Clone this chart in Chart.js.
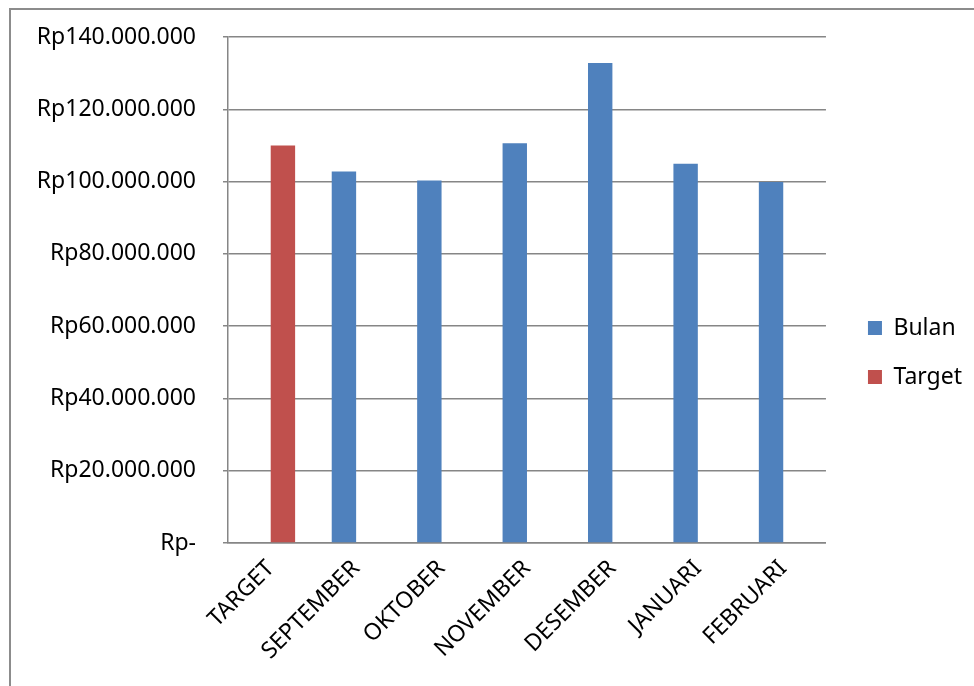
<!DOCTYPE html>
<html>
<head>
<meta charset="utf-8">
<script src="https://cdn.jsdelivr.net/npm/chart.js@4.4.1/dist/chart.umd.min.js"></script>
<style>
  html, body { margin: 0; padding: 0; background: #fff; overflow: hidden; }
  #wrap { position: relative; width: 974px; height: 686px; }
  #frame {
    position: absolute; left: 9px; top: 8px; width: 1000px; height: 700px;
    border-left: 2px solid #8c8c8c; border-top: 2px solid #8c8c8c;
  }
  canvas { position: absolute; left: 0; top: 0; }
</style>
</head>
<body>
<div id="wrap">
  <div id="frame"></div>
  <canvas id="salesChart" width="974" height="686"></canvas>
</div>
<script>
// Categories and monthly sales (Rupiah)
const categories = ["TARGET", "SEPTEMBER", "OKTOBER", "NOVEMBER", "DESEMBER", "JANUARI", "FEBRUARI"];
const bulanValues = [null, 102800000, 100300000, 110600000, 132800000, 104900000, 99900000];
const targetValues = [110000000, null, null, null, null, null, null];
const yTicks = [0, 20000000, 40000000, 60000000, 80000000, 100000000, 120000000, 140000000];

// Format like "Rp140.000.000" and "Rp-" for zero
function rupiah(v) {
    if (v === 0) return "Rp-";
    return "Rp" + Math.round(v).toString().replace(/\B(?=(\d{3})+(?!\d))/g, ".");
}

Chart.defaults.font.family = "'Noto Sans', sans-serif";
Chart.defaults.font.size = 23;
Chart.defaults.color = "#000";

const ctx = document.getElementById("salesChart").getContext("2d");
window.chart = new Chart(ctx, {
    type: "bar",
    data: {
        labels: categories,
        datasets: [{
            label: "Bulan",
            data: bulanValues,
            backgroundColor: "#4F81BD",
            categoryPercentage: 2 / 3.5,
            barPercentage: 1
        },
        {
            label: "Target",
            data: targetValues,
            backgroundColor: "#C0504D",
            categoryPercentage: 2 / 3.5,
            barPercentage: 1
        }]
    },
    options: {
        responsive: false,
        animation: false,
        layout: { padding: { left: 30, top: 37, right: 2, bottom: 18 } },
        plugins: {
            tooltip: { enabled: false },
            legend: {
                position: "right",
                labels: { boxWidth: 14, boxHeight: 14, padding: 26, font: { size: 23 } }
            }
        },
        scales: {
            x: {
                grid: { display: false },
                border: { display: true, color: "#868686", width: 1.5 },
                ticks: { maxRotation: 45, minRotation: 45, padding: 4, autoSkip: false },
                afterFit: (scale) => { scale.height = 125; }
            },
            y: {
                min: 0,
                max: 140000000,
                afterBuildTicks: (scale) => { scale.ticks = yTicks.map(v => ({ value: v })); },
                grid: { color: "#868686", lineWidth: 1.5, tickLength: 5 },
                border: { display: true, color: "#868686", width: 1.5 },
                ticks: { padding: 27, callback: (v) => rupiah(v) },
                afterFit: (scale) => {
                    scale.width = 198;
                    // plot top/bottom come from the layout padding instead
                    scale.paddingTop = 0;
                    scale.paddingBottom = 0;
                }
            },
            // empty spacer between plot and legend
            gap: {
                type: "linear",
                position: "right",
                display: true,
                grid: { display: false },
                border: { display: false },
                ticks: { display: false },
                afterFit: (scale) => { scale.width = 16; }
            }
        }
    }
});
</script>
</body>
</html>
